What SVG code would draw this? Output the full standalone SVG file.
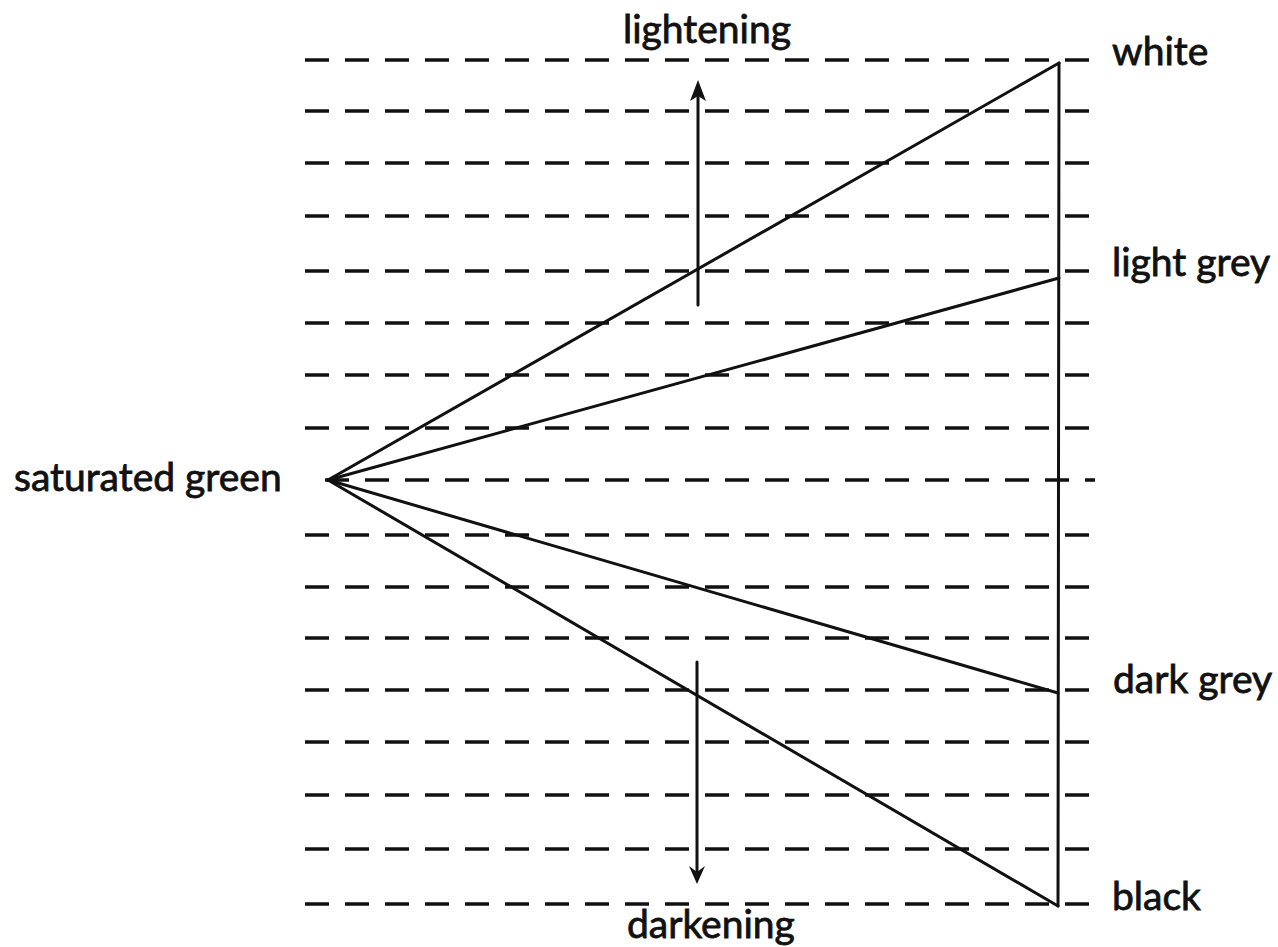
<svg xmlns="http://www.w3.org/2000/svg" width="1278" height="947" viewBox="0 0 1278 947">
<defs>
<style>
.dash{stroke:#111;stroke-width:3.4;stroke-dasharray:24 16;fill:none}
.ln{stroke:#111;stroke-width:3;fill:none;stroke-linecap:round}
.lbl{font-family:Lato,"Noto Sans",sans-serif;font-size:39px;fill:#111;stroke:#111;stroke-width:0.8}
</style>
</defs>
<rect width="1278" height="947" fill="#fff"/>
<g id="grid">
<line class="dash" x1="305" y1="60" x2="1090" y2="60"/>
<line class="dash" x1="305" y1="111" x2="1090" y2="111"/>
<line class="dash" x1="305" y1="163" x2="1090" y2="163"/>
<line class="dash" x1="305" y1="216" x2="1090" y2="216"/>
<line class="dash" x1="305" y1="271" x2="1090" y2="271"/>
<line class="dash" x1="305" y1="323" x2="1090" y2="323"/>
<line class="dash" x1="305" y1="375" x2="1090" y2="375"/>
<line class="dash" x1="305" y1="428" x2="1090" y2="428"/>
<line class="dash" x1="325" y1="480" x2="1095" y2="480"/>
<line class="dash" x1="305" y1="535" x2="1090" y2="535"/>
<line class="dash" x1="305" y1="587" x2="1090" y2="587"/>
<line class="dash" x1="305" y1="638" x2="1090" y2="638"/>
<line class="dash" x1="305" y1="690" x2="1090" y2="690"/>
<line class="dash" x1="305" y1="742" x2="1090" y2="742"/>
<line class="dash" x1="305" y1="795" x2="1090" y2="795"/>
<line class="dash" x1="305" y1="849" x2="1090" y2="849"/>
<line class="dash" x1="305" y1="904" x2="1090" y2="904"/>
</g>
<g id="connectors">
<line class="ln" x1="1059" y1="63" x2="1058" y2="906"/>
<line class="ln" x1="328" y1="480" x2="1059" y2="63"/>
<line class="ln" x1="328" y1="480" x2="1059" y2="278"/>
<line class="ln" x1="328" y1="480" x2="1058" y2="693"/>
<line class="ln" x1="328" y1="480" x2="1058" y2="906"/>
</g>
<g id="arrow-lightening">
<line class="ln" x1="698" y1="305" x2="698" y2="90"/>
<path d="M698,80 L706,101 L698,96 L690,101 Z" fill="#111"/>
</g>
<g id="arrow-darkening">
<line class="ln" x1="697" y1="662" x2="697" y2="875"/>
<path d="M697,884 L689,866 L697,872 L705,866 Z" fill="#111"/>
</g>
<g id="node-saturated-green"><text class="lbl" x="14" y="491">saturated green</text></g>
<g id="node-white"><text class="lbl" x="1112" y="65">white</text></g>
<g id="node-light-grey"><text class="lbl" x="1112" y="276">light grey</text></g>
<g id="node-dark-grey"><text class="lbl" x="1113" y="693">dark grey</text></g>
<g id="node-black"><text class="lbl" x="1112" y="910">black</text></g>
<g id="label-lightening"><text class="lbl" x="623" y="43">lightening</text></g>
<g id="label-darkening"><text class="lbl" x="627" y="938">darkening</text></g>
</svg>
